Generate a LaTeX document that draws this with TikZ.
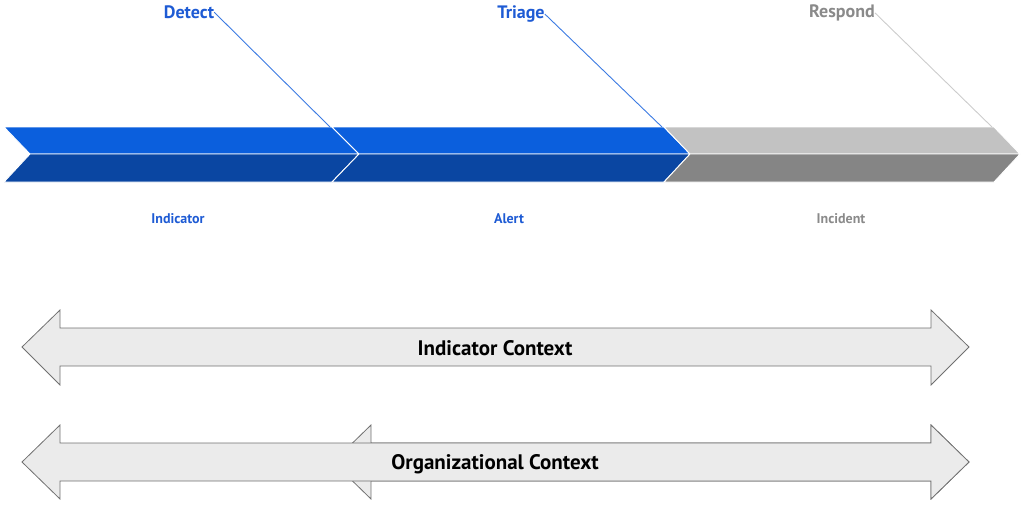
\documentclass[tikz,border=0pt]{standalone}
\usepackage{fontspec}
\setmainfont{PT Sans}
\definecolor{bluetop}{HTML}{0B5FDD}
\definecolor{bluebot}{HTML}{0A46A2}
\definecolor{graytop}{HTML}{C2C2C2}
\definecolor{graybot}{HTML}{858585}
\definecolor{bluetxt}{HTML}{1E5BD4}
\definecolor{blueline}{HTML}{3C7BE2}
\definecolor{graytxt}{HTML}{8A8A8A}
\definecolor{grayline}{HTML}{CCCCCC}
\definecolor{arrowfill}{HTML}{EBEBEB}
\definecolor{arrowline}{HTML}{707070}
\begin{document}
\begin{tikzpicture}[x=1pt,y=-1pt,
  half/.style={draw=white,line width=0.9pt,line join=miter},
  stage/.style={font=\bfseries\fontsize{18}{20}\selectfont,inner sep=0pt,anchor=base},
  obj/.style={font=\bfseries\fontsize{14}{16}\selectfont,inner sep=0pt,anchor=base},
  ctx/.style={font=\bfseries\fontsize{21}{24}\selectfont,inner sep=0pt,anchor=base},
  leader/.style={line width=0.9pt},
  bigarrow/.style={fill=arrowfill,draw=arrowline,line width=0.8pt,line join=miter}]
\useasboundingbox (0,0) rectangle (1024,504);
% chevrons
\fill[bluetop,half] (4,127) -- (332,127) -- (359,154) -- (30,154) -- cycle;
\fill[bluebot,half] (30,154) -- (359,154) -- (332,182) -- (4,182) -- cycle;
\fill[bluetop,half] (332,127) -- (664,127) -- (690,154) -- (359,154) -- cycle;
\fill[bluebot,half] (359,154) -- (690,154) -- (664,182) -- (332,182) -- cycle;
\fill[graytop,half] (664,127) -- (994,127) -- (1020,154) -- (690,154) -- cycle;
\fill[graybot,half] (690,154) -- (1020,154) -- (994,182) -- (664,182) -- cycle;
% corner coordinates
\coordinate (c1) at (330,127);
\coordinate (c2) at (662,127);
\coordinate (c3) at (992,127);
% stage labels
\node[stage,text=bluetxt] (detect) at (189,18.5) {Detect};
\node[stage,text=bluetxt] (triage) at (521,18.5) {Triage};
\node[stage,text=graytxt] (respond) at (842,17.5) {Respond};
\draw[leader,blueline] (detect.east) -- (c1);
\draw[leader,blueline] (triage.east) -- (c2);
\draw[leader,grayline] (respond.east) -- (c3);
% object labels
\node[obj,text=bluetxt] (indicator) at (178,223) {Indicator};
\node[obj,text=bluetxt] (alert) at (509,223) {Alert};
\node[obj,text=graytxt] (incident) at (841,223) {Incident};
% context arrows
\draw[bigarrow] (22,347) -- (60,310) -- (60,328) -- (931,328) -- (931,310) -- (969,347)
  -- (931,385) -- (931,366) -- (60,366) -- (60,385) -- cycle;
\node[ctx] (indctx) at (495,355) {Indicator Context};
\draw[bigarrow] (333,462) -- (371,425) -- (371,443) -- (931,443) -- (931,425) -- (969,462)
  -- (931,499) -- (931,481) -- (371,481) -- (371,499) -- cycle;
\draw[bigarrow] (22,462) -- (60,425) -- (60,443) -- (931,443) -- (931,425) -- (969,462)
  -- (931,499) -- (931,481) -- (60,481) -- (60,499) -- cycle;
\node[ctx] (orgctx) at (495,469.5) {Organizational Context};
\end{tikzpicture}
\end{document}
